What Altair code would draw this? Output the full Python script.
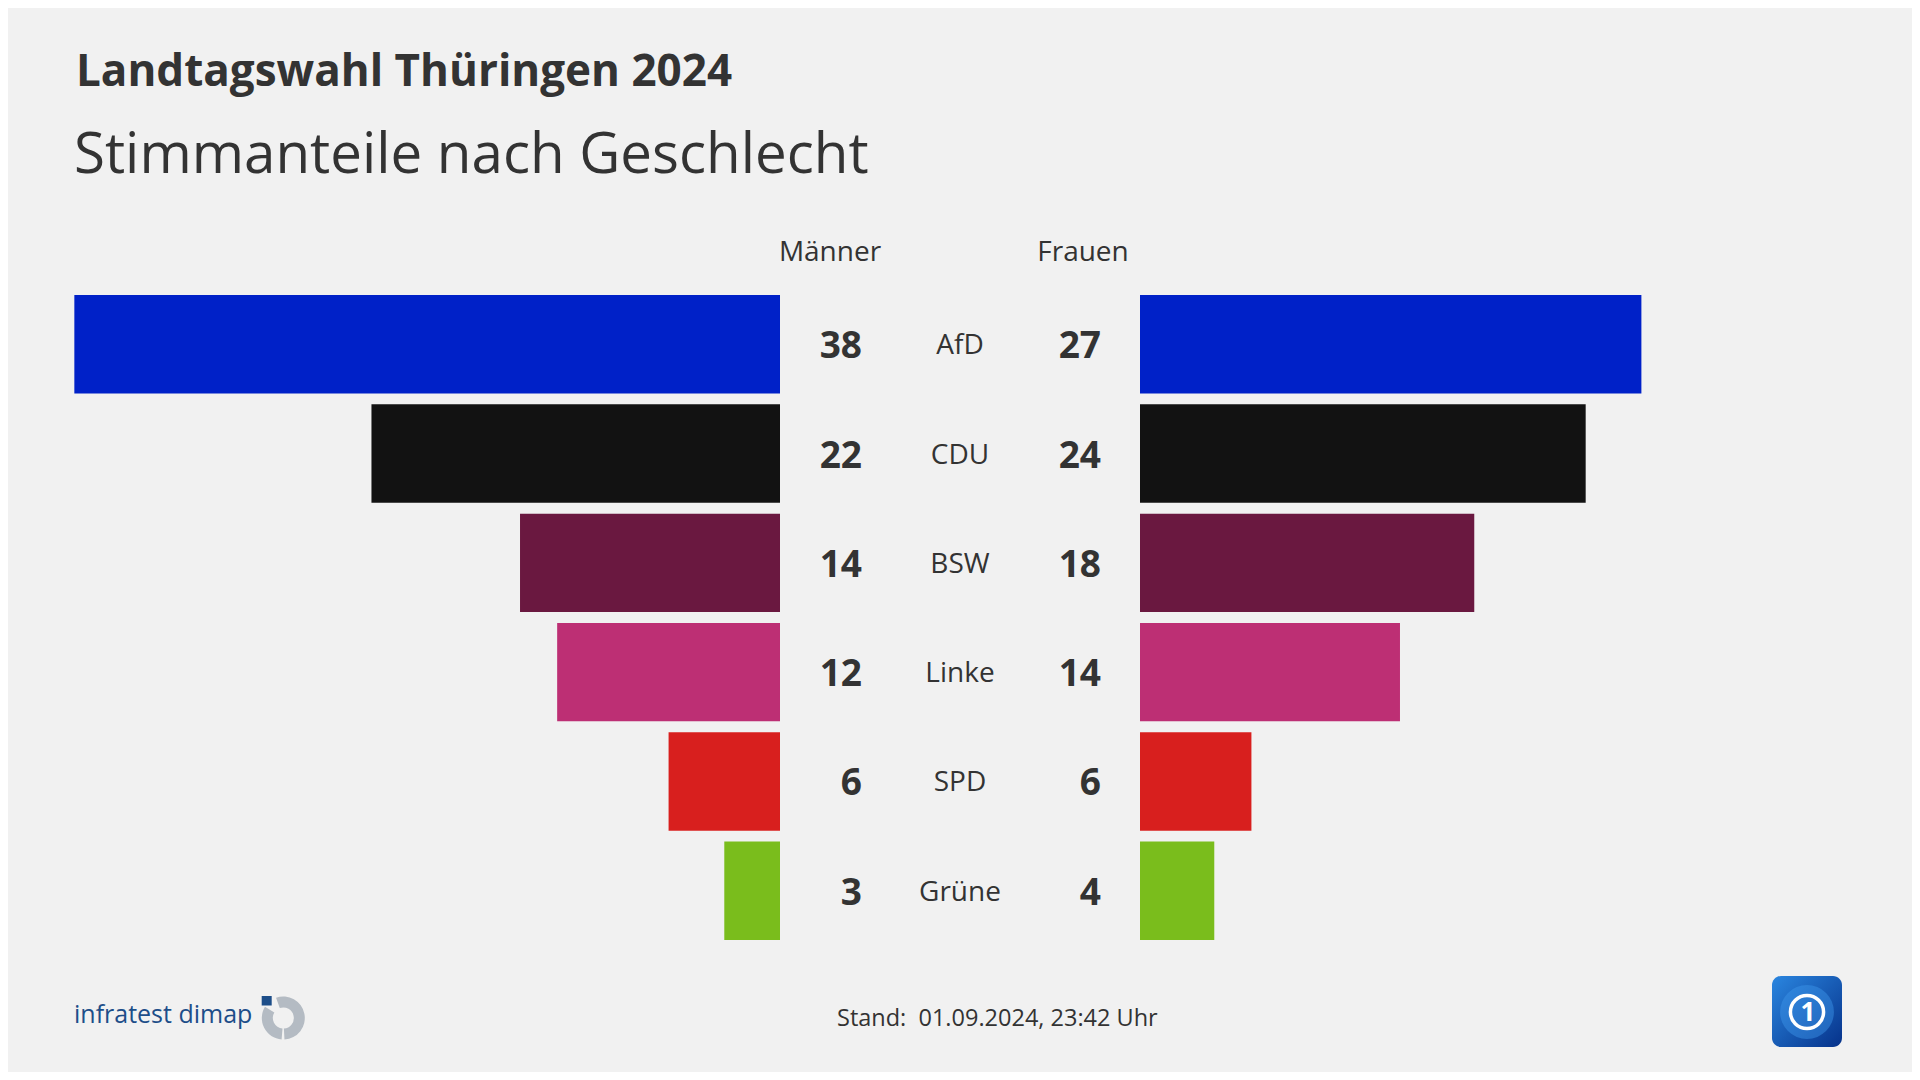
import altair as alt
import pandas as pd

# ---- data ----
parties = ["AfD", "CDU", "BSW", "Linke", "SPD", "Grüne"]
men = [38, 22, 14, 12, 6, 3]
women = [27, 24, 18, 14, 6, 4]
colors = ["#0021c8", "#121212", "#6a1840", "#bd2f74", "#d81f1e", "#7abd1c"]

title = ["Landtagswahl Thüringen 2024"]
subtitle = ["Stimmanteile nach Geschlecht"]
headers = ["Männer", "Frauen"]
footer = ["Stand:\u00a0 01.09.2024, 23:42 Uhr"]
brand = ["infratest dimap"]

FONT = "Open Sans"
TXT = "#333333"

df = pd.DataFrame({"party": parties, "men": men, "women": women})

yscale = alt.Scale(domain=parties, range=[287, 932], paddingInner=0.1, paddingOuter=0)
Y = alt.Y("party:N", sort=parties, scale=yscale, axis=None)
colorenc = alt.Color("party:N", scale=alt.Scale(domain=parties, range=colors), legend=None)

left = alt.Chart(df).mark_bar().encode(
    y=Y,
    x=alt.X("men:Q", scale=alt.Scale(domain=[0, 40], range=[772, 29.2]), axis=None),
    color=colorenc,
)
right = alt.Chart(df).mark_bar().encode(
    y=Y,
    x=alt.X("women:Q", scale=alt.Scale(domain=[0, 40], range=[1132, 1874.8]), axis=None),
    color=colorenc,
)

men_txt = alt.Chart(df).mark_text(
    align="right", baseline="middle", font=FONT, fontSize=37, fontWeight="bold", color=TXT, dy=3
).encode(y=Y, x=alt.value(854), text="men:Q")
women_txt = alt.Chart(df).mark_text(
    align="right", baseline="middle", font=FONT, fontSize=37, fontWeight="bold", color=TXT, dy=3
).encode(y=Y, x=alt.value(1093), text="women:Q")
party_txt = alt.Chart(df).mark_text(
    align="center", baseline="middle", font=FONT, fontSize=28, color=TXT, dy=2
).encode(y=Y, x=alt.value(952), text="party:N")

hdr_df = pd.DataFrame({"h": headers, "pos": [0, 1]})
hdr = alt.Chart(hdr_df).mark_text(
    align="center", baseline="alphabetic", font=FONT, fontSize=28, color=TXT
).encode(
    x=alt.X("pos:Q", scale=alt.Scale(domain=[0, 1], range=[822, 1075]), axis=None),
    y=alt.value(253),
    text="h:N",
)

t1 = alt.Chart(pd.DataFrame({"t": title})).mark_text(
    align="left", baseline="alphabetic", font=FONT, fontSize=44, fontWeight="bold", color=TXT
).encode(x=alt.value(68), y=alt.value(78), text="t:N")
t2 = alt.Chart(pd.DataFrame({"t": subtitle})).mark_text(
    align="left", baseline="alphabetic", font=FONT, fontSize=56.5, color=TXT
).encode(x=alt.value(66), y=alt.value(165), text="t:N")

foot = alt.Chart(pd.DataFrame({"t": footer})).mark_text(
    align="left", baseline="alphabetic", font=FONT, fontSize=23.5, color=TXT
).encode(x=alt.value(829), y=alt.value(1018), text="t:N")

brand_txt = alt.Chart(pd.DataFrame({"t": brand})).mark_text(
    align="left", baseline="alphabetic", font=FONT, fontSize=25, fontWeight=500, color="#1d4e89"
).encode(x=alt.value(66), y=alt.value(1015), text="t:N")

one = pd.DataFrame({"a": [0]})
ring1 = alt.Chart(one).mark_arc(
    theta=5.94, theta2=9.37, radius=21.5, radius2=10.5, color="#b4bbc3"
).encode(x=alt.value(275.3), y=alt.value(1010))
ring2 = alt.Chart(one).mark_arc(
    theta=3.22, theta2=5.26, radius=21.5, radius2=10.5, color="#b4bbc3"
).encode(x=alt.value(275.3), y=alt.value(1010))
sq = alt.Chart(one).mark_rect(color="#1d4e89").encode(
    x=alt.value(253.7), x2=alt.value(263.7), y=alt.value(988), y2=alt.value(997.5)
)

ard_bg = alt.Chart(one).mark_rect(
    cornerRadius=9,
    color=alt.Gradient(
        gradient="linear",
        stops=[alt.GradientStop(color="#2a86e0", offset=0), alt.GradientStop(color="#06328a", offset=1)],
        x1=0, x2=1, y1=0, y2=1,
    ),
).encode(x=alt.value(1764), x2=alt.value(1834), y=alt.value(968), y2=alt.value(1039))
ard_globe = alt.Chart(one).mark_point(
    shape="circle", size=2900, filled=True, color="#3f96ea", opacity=0.45
).encode(x=alt.value(1799), y=alt.value(1004))
ard_ring = alt.Chart(one).mark_point(
    shape="circle", size=1100, filled=False, color="white", strokeWidth=3.5, opacity=1
).encode(x=alt.value(1799), y=alt.value(1004))
ard_one = alt.Chart(pd.DataFrame({"t": ["1"]})).mark_text(
    align="center", baseline="middle", font=FONT, fontSize=26, fontWeight="bold", color="white"
).encode(x=alt.value(1800), y=alt.value(1005), text="t:N")

chart = alt.layer(
    left, right, men_txt, women_txt, party_txt, hdr, t1, t2, foot, brand_txt,
    ring1, ring2, sq, ard_bg, ard_globe, ard_ring, ard_one,
).resolve_scale(x="independent").properties(
    width=1904, height=1064, autosize=alt.AutoSizeParams(type="none"), padding=0, background="#f1f1f1"
).configure_view(stroke=None)

chart.save("out.html", embed_options={"renderer": "svg", "actions": False})
